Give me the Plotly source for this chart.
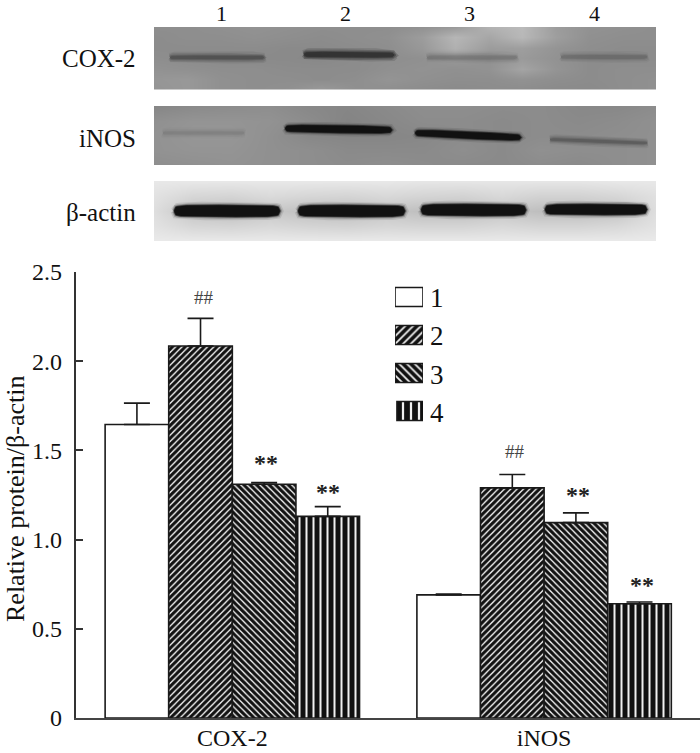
import numpy as np
import plotly.graph_objects as go

W, H = 700, 753
FONT = "Liberation Serif"
INK = "#1a1a1a"

# ---- bar chart data
targets = ["COX-2", "iNOS"]
group_1 = [1.645, 0.69]
group_2 = [2.085, 1.29]
group_3 = [1.31, 1.095]
group_4 = [1.13, 0.64]
err_1 = [0.12, 0.005]
err_2 = [0.155, 0.075]
err_3 = [0.01, 0.055]
err_4 = [0.055, 0.01]
y_ticks = [0, 0.5, 1.0, 1.5, 2.0, 2.5]
y_tick_labels = ["0", "0.5", "1.0", "1.5", "2.0", "2.5"]
lanes = ["1", "2", "3", "4"]

# ---- blot data (band left, right, y at left, y at right, thickness, darkness)
cox_bands = [
    (170, 264, 57.5, 57.5, 3, 0.50),
    (304, 394, 54.5, 55, 4.5, 0.95),
    (427, 517, 57.5, 57.5, 3, 0.20),
    (561, 647, 57, 57, 3, 0.24),
]
inos_bands = [
    (163, 244, 133, 133, 2, 0.12),
    (285, 392, 128.5, 130, 7, 1.0),
    (415, 521, 133, 137.5, 6.5, 1.0),
    (550, 647, 139.5, 143, 2, 0.40),
]
actin_bands = [
    (174, 280, 211, 211, 11.5, 1.0),
    (298, 405, 211, 211, 11.5, 1.0),
    (421, 526, 210, 210, 11.5, 1.0),
    (545, 647, 209.5, 209.5, 10.5, 1.0),
]
cox_bg = [
    [142, 142, 144, 146, 144, 142, 142, 142, 146, 154, 178, 186, 156, 146, 144, 142],
    [140, 142, 142, 144, 142, 140, 142, 144, 156, 182, 166, 184, 158, 144, 142, 142],
    [140, 140, 140, 140, 138, 138, 140, 142, 152, 176, 156, 158, 148, 142, 140, 140],
    [142, 140, 138, 138, 138, 136, 140, 142, 144, 152, 146, 154, 146, 140, 140, 140],
    [146, 144, 142, 142, 140, 140, 140, 144, 146, 144, 146, 164, 148, 140, 142, 142],
    [150, 152, 144, 142, 142, 140, 142, 148, 144, 142, 142, 146, 142, 140, 142, 144],
    [148, 152, 144, 142, 144, 154, 144, 142, 140, 138, 140, 140, 138, 138, 142, 144],
]
inos_bg = [
    [134, 138, 140, 142, 136, 134, 138, 142, 142, 140, 140, 136, 136, 140],
    [144, 148, 148, 146, 140, 132, 136, 140, 140, 138, 140, 138, 140, 144],
    [146, 150, 150, 144, 136, 134, 134, 136, 140, 138, 140, 140, 142, 144],
    [146, 148, 148, 144, 142, 138, 138, 138, 142, 138, 144, 142, 142, 144],
    [142, 144, 146, 144, 142, 140, 142, 140, 138, 138, 140, 138, 142, 144],
]
actin_bg = [
    [232, 232, 232, 232, 232, 232, 232, 230, 230, 230, 230, 230, 232, 232],
    [226, 214, 212, 218, 214, 212, 216, 212, 210, 216, 210, 210, 214, 224],
    [222, 196, 190, 200, 192, 190, 198, 190, 190, 198, 190, 190, 196, 222],
    [226, 214, 212, 216, 212, 210, 214, 212, 212, 216, 212, 212, 216, 226],
    [234, 234, 234, 234, 234, 234, 234, 234, 234, 234, 234, 234, 234, 234],
]

fig = go.Figure()


def px_x(v):
    return v / W


def px_y(v):
    return 1 - v / H


PANEL_L, PANEL_R = 154, 656
panels = [
    ("2", 27, 89.5, cox_bg, cox_bands),
    ("3", 106, 165, inos_bg, inos_bands),
    ("4", 181, 241, actin_bg, actin_bands),
]
layout_axes = {}
for sfx, top, bottom, bg, bands in panels:
    layout_axes[f"xaxis{sfx}"] = dict(
        domain=[px_x(PANEL_L), px_x(PANEL_R)], range=[PANEL_L, PANEL_R],
        visible=False, anchor=f"y{sfx}", fixedrange=True, automargin=False)
    layout_axes[f"yaxis{sfx}"] = dict(
        domain=[px_y(bottom), px_y(top)], range=[bottom, top],
        visible=False, anchor=f"x{sfx}", fixedrange=True, automargin=False)
    rows, cols = len(bg), len(bg[0])
    fig.add_trace(go.Heatmap(
        z=bg,
        x=np.linspace(PANEL_L, PANEL_R, cols),
        y=np.linspace(top, bottom, rows),
        zmin=0, zmax=255, zsmooth="best", showscale=False, hoverinfo="skip",
        colorscale=[[0, "#000000"], [1, "#ffffff"]],
        xaxis=f"x{sfx}", yaxis=f"y{sfx}", showlegend=False))
    for left, right, y0, y1, thick, dark in bands:
        u = np.linspace(-1, 1, 60)
        half = thick / 2 * (1 - np.abs(u) ** 5) ** 0.2
        xs = left + (u + 1) / 2 * (right - left)
        ys = y0 + (u + 1) / 2 * (y1 - y0)
        px = np.concatenate([xs, xs[::-1], xs[:1]])
        py = np.concatenate([ys - half, (ys + half)[::-1], ys[:1] - half[:1]])
        layers = [(7, 0.10), (4, 0.22), (2, 0.45), (0.5, 1.0)] if dark == 1.0 else \
                 [(9, 0.14), (6, 0.22), (3, 0.32), (1, 0.40)]
        for lw, op in layers:
            fig.add_trace(go.Scatter(
                x=px, y=py, mode="lines", fill="toself",
                fillcolor="#111111", line=dict(color="#111111", width=lw),
                opacity=op * dark, hoverinfo="skip", showlegend=False,
                xaxis=f"x{sfx}", yaxis=f"y{sfx}"))

# ---- grouped bars
styles = [
    dict(shape="", bg="#ffffff", size=6, sol=0.3),
    dict(shape="/", bg="#f4f4f4", size=4.5, sol=0.68),
    dict(shape="\\", bg="#f4f4f4", size=4.5, sol=0.68),
    dict(shape="|", bg="#f0f0f0", size=7, sol=0.72),
]
series = [group_1, group_2, group_3, group_4]
errs = [err_1, err_2, err_3, err_4]
for name, vals, er, st in zip(lanes, series, errs, styles):
    fig.add_trace(go.Bar(
        x=[0, 1], y=vals, name=name, showlegend=False,
        marker=dict(
            color="#ffffff",
            line=dict(color=INK, width=1.6),
            pattern=dict(shape=st["shape"], bgcolor=st["bg"], fgcolor="#111111",
                         fgopacity=1, size=st["size"], solidity=st["sol"], fillmode="overlay"),
        ),
        error_y=dict(type="data", symmetric=False, array=er, arrayminus=[0, 0],
                     color=INK, thickness=1.6, width=13),
    ))
    # legend swatch, drawn as a bar on its own small axes
    fig.add_trace(go.Bar(
        x=[1], y=[name], base=[0.07 if name == "4" else 0], orientation="h", showlegend=False,
        width=0.5, hoverinfo="skip", xaxis="x5", yaxis="y5",
        marker=dict(
            color="#ffffff",
            line=dict(color=INK, width=1.6),
            pattern=dict(shape=st["shape"], bgcolor=st["bg"], fgcolor="#111111",
                         fgopacity=1, size=st["size"] + 1, solidity=st["sol"]),
        ),
    ))

AX_L, AX_R, AX_T, AX_B = 75.5, 700, 272, 718

annotations = []


def note(text, x, y, size, anchor="center", color="#111111", bold=False):
    annotations.append(dict(
        text=f"<b>{text}</b>" if bold else text, x=px_x(x), y=px_y(y), xref="paper", yref="paper",
        showarrow=False, xanchor=anchor, yanchor="middle",
        font=dict(family=FONT, size=size, color=color)))


for name, x in zip(lanes, [221, 345, 469, 594]):
    note(name, x, 14, 22)
for text, y in zip(["COX-2", "iNOS", "β-actin"], [58, 138, 213]):
    note(text, 138, y, 25, anchor="right")
for name, y in zip(lanes, [298, 336, 375, 413]):
    note(name, 437, y, 27)
note("##", 204, 297, 19, color="#444444")
note("**", 266, 463, 24, color="#222222", bold=True)
note("**", 328, 492, 24, color="#222222", bold=True)
note("##", 515, 451, 19, color="#444444")
note("**", 578, 495, 24, color="#222222", bold=True)
note("**", 642, 585, 24, color="#222222", bold=True)
annotations.append(dict(
    text="Relative protein/β-actin", x=px_x(15), y=px_y(499), xref="paper", yref="paper",
    showarrow=False, textangle=-90, xanchor="center", yanchor="middle",
    font=dict(family=FONT, size=26, color="#111111")))

fig.update_layout(
    width=W, height=H, margin=dict(l=0, r=0, t=0, b=0, pad=0),
    paper_bgcolor="white", plot_bgcolor="white",
    barmode="group", bargap=0.184, bargroupgap=0,
    xaxis=dict(
        domain=[px_x(AX_L), 1], range=[-0.503, 1.5], anchor="y", automargin=False,
        tickvals=[0, 1], ticktext=targets, ticks="", showgrid=False, zeroline=False,
        showline=True, linecolor="#444444", linewidth=1.5, ticklabelstandoff=-3,
        tickfont=dict(family=FONT, size=24, color="#111111")),
    yaxis=dict(
        domain=[px_y(AX_B), px_y(AX_T)], range=[0, 2.5], anchor="x", automargin=False,
        tickvals=y_ticks, ticktext=y_tick_labels, ticks="inside", ticklen=8, tickwidth=1.5,
        tickcolor="#333333", showgrid=False, zeroline=False, ticklabelstandoff=7,
        showline=True, linecolor="#333333", linewidth=1.5,
        tickfont=dict(family=FONT, size=24, color="#111111")),
    xaxis5=dict(domain=[px_x(395), px_x(423)], range=[0, 1], visible=False,
                anchor="y5", fixedrange=True, automargin=False),
    yaxis5=dict(domain=[px_y(430), px_y(278)], categoryorder="array",
                categoryarray=lanes[::-1], visible=False, anchor="x5", fixedrange=True,
                automargin=False),
    annotations=annotations,
    **layout_axes,
)

fig.write_html("out.html", config={"displayModeBar": False},
               post_script="document.body.style.margin='0';document.documentElement.style.overflow='hidden';")
